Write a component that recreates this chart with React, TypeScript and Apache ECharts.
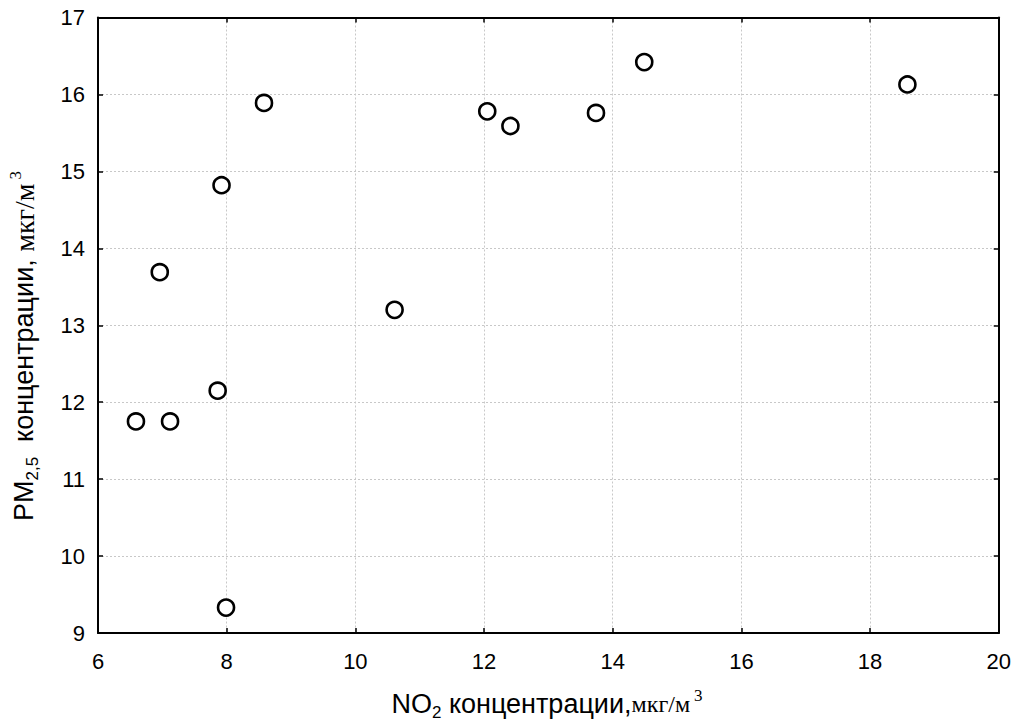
import React, { useEffect, useRef } from "react";
import * as echarts from "echarts";

const no2Values: number[] = [6.59, 7.12, 6.96, 7.86, 7.92, 7.99, 8.58, 10.61, 12.05, 12.41, 13.74, 14.49, 18.58];
const pm25Values: number[] = [11.75, 11.75, 13.69, 12.15, 14.82, 9.33, 15.89, 13.2, 15.78, 15.59, 15.76, 16.42, 16.13];
const xRange = { min: 6, max: 20, interval: 2 };
const yRange = { min: 9, max: 17, interval: 1 };

const SANS = "'Liberation Sans', Arial, sans-serif";
const SERIF = "'Liberation Serif', 'Times New Roman', serif";

function makeRich(serifSize: number) {
  return {
    a: { fontSize: 27, fontFamily: SANS, color: "#000", lineHeight: 34 },
    s: { fontSize: 17, fontFamily: SANS, color: "#000", lineHeight: 14, verticalAlign: "bottom" },
    b: { fontSize: serifSize, fontFamily: SERIF, color: "#000", lineHeight: 34 },
    p: { fontSize: 17, fontFamily: SERIF, color: "#000", lineHeight: 14, verticalAlign: "top", padding: [0, 0, 0, 4] },
  };
}

export default function App() {
  const ref = useRef<HTMLDivElement>(null);
  useEffect(() => {
    if (!ref.current) return;
    const chart = echarts.init(ref.current, undefined, { renderer: "svg" });
    const points = no2Values.map((x, i) => [x, pm25Values[i]]);
    const axisLine = { show: true, onZero: false, lineStyle: { color: "#000", width: 2 } };
    const tick = { show: true, inside: true, length: 5, lineStyle: { color: "#000", width: 1.5 } };
    const split = { show: true, lineStyle: { color: "#c8c8c8", type: [2, 2] as any, width: 1 } };
    const label = { color: "#000", fontSize: 22, fontFamily: SANS };
    chart.setOption({
      animation: false,
      backgroundColor: "#fff",
      grid: { left: 98, top: 17.5, right: 14, bottom: 89, containLabel: false },
      xAxis: [
        {
          type: "value", ...xRange, position: "bottom",
          axisLine, axisTick: tick, splitLine: split,
          axisLabel: { ...label, margin: 17 },
        },
        {
          type: "value", ...xRange, position: "top",
          axisLine, axisTick: tick, splitLine: { show: false }, axisLabel: { show: false },
        },
      ],
      yAxis: [
        {
          type: "value", ...yRange, position: "left",
          axisLine, axisTick: tick, splitLine: split,
          axisLabel: { ...label, margin: 13 },
        },
        {
          type: "value", ...yRange, position: "right",
          axisLine, axisTick: tick, splitLine: { show: false }, axisLabel: { show: false },
        },
      ],
      series: [
        {
          type: "scatter",
          xAxisIndex: 0,
          yAxisIndex: 0,
          data: points,
          symbol: "circle",
          symbolSize: 16,
          itemStyle: { color: "#fff", borderColor: "#000", borderWidth: 2.6, opacity: 1 },
          z: 5,
        },
      ],
      graphic: [
        {
          type: "text",
          x: 547,
          y: 704,
          style: {
            text: "{a|NO}{s|2}{a| концентрации,}{b|мкг/м}{p|3}",
            rich: makeRich(24),
            align: "center",
            verticalAlign: "middle",
          },
        },
        {
          type: "text",
          x: 24,
          y: 346,
          rotation: Math.PI / 2,
          style: {
            text: "{a|PM}{s|2,5}{a|  концентрации, }{b|мкг/м}{p|3}",
            rich: makeRich(28),
            align: "center",
            verticalAlign: "middle",
          },
        },
      ],
    });
    return () => chart.dispose();
  }, []);
  return (
    <div
      ref={ref}
      style={{ position: "absolute", left: 0, top: 0, width: 1014, height: 722 }}
    />
  );
}
